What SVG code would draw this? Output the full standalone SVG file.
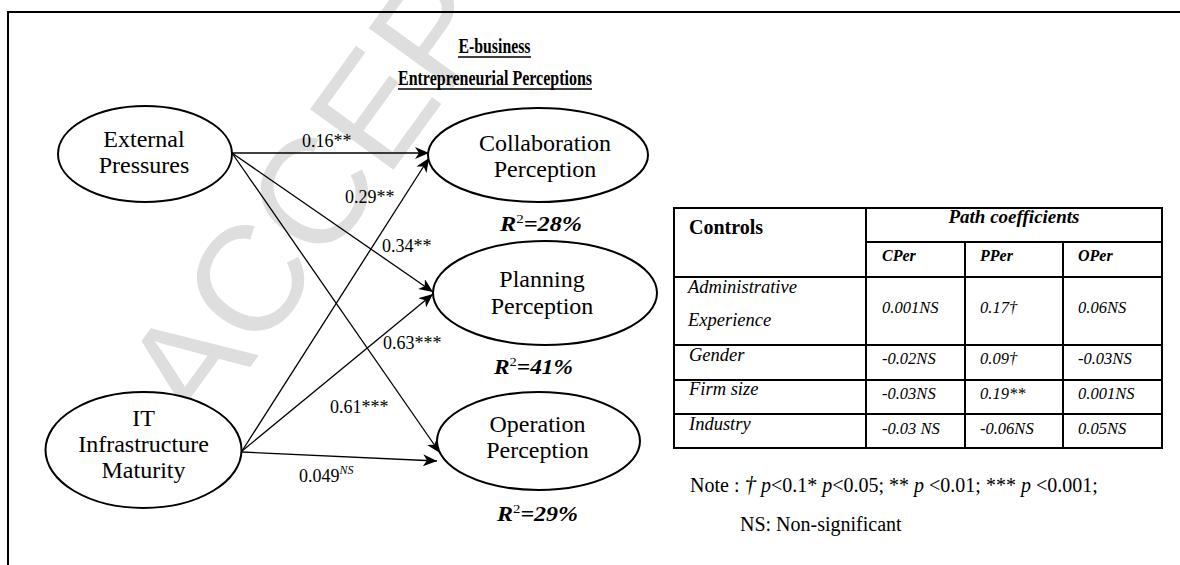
<svg xmlns="http://www.w3.org/2000/svg" width="1180" height="565" viewBox="0 0 1180 565">
  <style>
    text { font-family: "Liberation Serif", "Times New Roman", "DejaVu Serif", serif; fill: #000; }
    .node { fill: #fff; stroke: #000; stroke-width: 2; }
    .lbl { font-size: 24px; text-anchor: middle; }
    .coef { font-size: 18px; }
    .r2 { font-size: 21px; font-weight: bold; font-style: italic; }
    .title { font-size: 20px; font-weight: bold; text-anchor: middle; }
    .edge { stroke: #000; stroke-width: 1.3; fill: none; marker-end: url(#arrow); }
    .grid { stroke: #000; stroke-width: 2; fill: none; }
    .th { font-size: 20px; font-weight: bold; }
    .head { font-size: 19px; font-weight: bold; font-style: italic; text-anchor: middle; }
    .sub { font-size: 16px; font-weight: bold; font-style: italic; }
    .row { font-size: 18.5px; font-style: italic; }
    .val { font-size: 16.5px; font-style: italic; }
    .note { font-size: 20px; }
    .wm { font-family: "Liberation Sans", Arial, sans-serif; font-size: 150px; fill: #dedede; }
  </style>
  <defs>
    <marker id="arrow" markerWidth="16" markerHeight="12" refX="14" refY="6" orient="auto" markerUnits="userSpaceOnUse">
      <path d="M0,0 L14,6 L0,12 L4,6 z" fill="#000"/>
    </marker>
  </defs>

  <rect width="1180" height="565" fill="#fff"/>

  <!-- background watermark -->
  <text class="wm" transform="translate(200,436) rotate(-54)">ACCEPTED</text>

  <!-- frame -->
  <rect x="8" y="12" width="1200" height="600" class="grid"/>

  <!-- heading -->
  <g id="heading">
    <text class="title" x="494.5" y="53" textLength="72" lengthAdjust="spacingAndGlyphs">E-business</text>
    <line x1="458" y1="57" x2="531" y2="57" stroke="#000" stroke-width="1.5"/>
    <text class="title" x="495" y="85" textLength="194" lengthAdjust="spacingAndGlyphs">Entrepreneurial Perceptions</text>
    <line x1="398" y1="89" x2="592" y2="89" stroke="#000" stroke-width="1.5"/>
  </g>

  <!-- paths -->
  <g id="connectors">
    <line class="edge" x1="232" y1="153" x2="429" y2="153"/>
    <line class="edge" x1="232" y1="153" x2="433" y2="292"/>
    <line class="edge" x1="232" y1="153" x2="440" y2="453"/>
    <line class="edge" x1="242" y1="451" x2="429" y2="158"/>
    <line class="edge" x1="242" y1="451" x2="433" y2="294"/>
    <line class="edge" x1="242" y1="452" x2="437" y2="461"/>
    <text class="coef" x="302" y="147">0.16**</text>
    <text class="coef" x="345" y="203">0.29**</text>
    <text class="coef" x="382" y="252">0.34**</text>
    <text class="coef" x="383" y="349">0.63***</text>
    <text class="coef" x="330" y="413">0.61***</text>
    <text class="coef" x="299" y="482">0.049<tspan font-size="12" font-style="italic" dy="-8">NS</tspan></text>
  </g>

  <g id="external-pressures">
    <ellipse class="node" cx="145" cy="154" rx="87" ry="48"/>
    <text class="lbl" x="144" y="147">External</text>
    <text class="lbl" x="144" y="173">Pressures</text>
  </g>

  <g id="it-infrastructure">
    <ellipse class="node" cx="143.5" cy="450" rx="98" ry="58"/>
    <text class="lbl" x="143.5" y="426">IT</text>
    <text class="lbl" x="143.5" y="452">Infrastructure</text>
    <text class="lbl" x="143.5" y="478">Maturity</text>
  </g>

  <g id="collaboration">
    <ellipse class="node" cx="538" cy="155" rx="110" ry="47"/>
    <text class="lbl" x="545" y="151">Collaboration</text>
    <text class="lbl" x="545" y="177">Perception</text>
    <text class="r2" x="500" y="231" textLength="82" lengthAdjust="spacingAndGlyphs">R<tspan font-size="13" font-weight="normal" font-style="normal" dy="-8">2</tspan><tspan dy="8">=28%</tspan></text>
  </g>

  <g id="planning">
    <ellipse class="node" cx="545" cy="293" rx="112" ry="52"/>
    <text class="lbl" x="542" y="287">Planning</text>
    <text class="lbl" x="542" y="314">Perception</text>
    <text class="r2" x="494" y="374" textLength="79" lengthAdjust="spacingAndGlyphs">R<tspan font-size="13" font-weight="normal" font-style="normal" dy="-8">2</tspan><tspan dy="8">=41%</tspan></text>
  </g>

  <g id="operation">
    <ellipse class="node" cx="538.5" cy="441" rx="101.5" ry="49"/>
    <text class="lbl" x="537.5" y="432">Operation</text>
    <text class="lbl" x="537.5" y="458">Perception</text>
    <text class="r2" x="497" y="521" textLength="81" lengthAdjust="spacingAndGlyphs">R<tspan font-size="13" font-weight="normal" font-style="normal" dy="-8">2</tspan><tspan dy="8">=29%</tspan></text>
  </g>

  <!-- controls table -->
  <g id="controls-table">
    <rect class="grid" x="674" y="208" width="488" height="240"/>
    <line class="grid" x1="866" y1="208" x2="866" y2="448"/>
    <line class="grid" x1="866" y1="242" x2="1162" y2="242"/>
    <line class="grid" x1="965" y1="242" x2="965" y2="448"/>
    <line class="grid" x1="1063" y1="242" x2="1063" y2="448"/>
    <line class="grid" x1="674" y1="277" x2="1162" y2="277"/>
    <line class="grid" x1="674" y1="345" x2="1162" y2="345"/>
    <line class="grid" x1="674" y1="380" x2="1162" y2="380"/>
    <line class="grid" x1="674" y1="414" x2="1162" y2="414"/>

    <text class="th" x="689" y="234">Controls</text>
    <text class="head" x="1014" y="223">Path coefficients</text>
    <text class="sub" x="882" y="261">CPer</text>
    <text class="sub" x="980" y="261">PPer</text>
    <text class="sub" x="1078" y="261">OPer</text>

    <text class="row" x="688" y="293">Administrative</text>
    <text class="row" x="688" y="326">Experience</text>
    <text class="val" x="882" y="313">0.001NS</text>
    <text class="val" x="980" y="313">0.17†</text>
    <text class="val" x="1078" y="313">0.06NS</text>

    <text class="row" x="689" y="361">Gender</text>
    <text class="val" x="882" y="364">-0.02NS</text>
    <text class="val" x="980" y="364">0.09†</text>
    <text class="val" x="1078" y="364">-0.03NS</text>

    <text class="row" x="689" y="395">Firm size</text>
    <text class="val" x="882" y="399">-0.03NS</text>
    <text class="val" x="980" y="399">0.19**</text>
    <text class="val" x="1078" y="399">0.001NS</text>

    <text class="row" x="689" y="430">Industry</text>
    <text class="val" x="882" y="434">-0.03 NS</text>
    <text class="val" x="980" y="434">-0.06NS</text>
    <text class="val" x="1078" y="434">0.05NS</text>
  </g>

  <g id="legend">
    <text class="note" x="690" y="492">Note : <tspan font-style="italic" font-size="23">†</tspan> <tspan font-style="italic">p</tspan>&lt;0.1* <tspan font-style="italic">p</tspan>&lt;0.05; ** <tspan font-style="italic">p</tspan> &lt;0.01; *** <tspan font-style="italic">p</tspan> &lt;0.001;</text>
    <text class="note" x="740" y="531">NS: Non-significant</text>
  </g>
</svg>
